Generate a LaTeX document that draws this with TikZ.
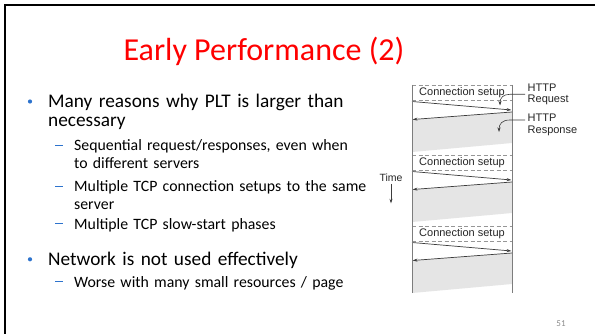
\documentclass[tikz,border=0pt]{standalone}
\usepackage{fontspec}
\setmainfont{Carlito}
\newfontfamily\helv{Liberation Sans}
\usetikzlibrary{arrows.meta}

\definecolor{titlered}{RGB}{255,0,0}
\definecolor{bulletblue}{RGB}{45,115,205}
\definecolor{lightfill}{RGB}{229,229,229}
\definecolor{rulegray}{RGB}{125,125,125}
\definecolor{dashgray}{RGB}{150,150,150}
\definecolor{msggray}{RGB}{60,60,60}
\definecolor{pagegray}{RGB}{140,140,140}

\begin{document}
\begin{tikzpicture}[x=1pt,y=-1pt,
  lvlone/.style={anchor=base west, inner sep=0pt, text width=340pt, align=left,
    font=\fontsize{19.3}{19}\selectfont},
  lvltwo/.style={anchor=base west, inner sep=0pt, text width=340pt, align=left,
    font=\fontsize{15.8}{17.5}\selectfont},
  dot/.style={fill=bulletblue},
  subdash/.style={draw=bulletblue, line width=1.1pt},
  setupline/.style={draw=dashgray, line width=0.7pt, dash pattern=on 4pt off 2.5pt},
  lifeline/.style={draw=rulegray, line width=0.8pt},
  msg/.style={draw=msggray, line width=0.7pt, -{Stealth[length=5pt,width=3pt]}},
  leader/.style={draw=msggray, line width=0.6pt, -{Stealth[length=4.5pt,width=3pt]}},
  diagtext/.style={inner sep=0pt, font=\helv\fontsize{11}{11.5}\selectfont, text=black!85},
]
\useasboundingbox (0,0) rectangle (595,334);
\fill[white] (0,0) rectangle (595,334);

% slide frame (top and left edges)
\draw[line width=2pt] (5.3,334) -- (5.3,5.3) -- (595,5.3);

% title
\node[anchor=base, inner sep=0pt, text=titlered, font=\fontsize{32}{36}\selectfont]
  (title) at (264,61) {Early Performance (2)};

% bullet list
\fill[dot] (30,101.5) circle (2.1pt);
\node[lvlone] (b1) at (48,108) {Many reasons why PLT is larger than\\ necessary};

\draw[subdash] (55,145.5) -- (63,145.5);
\node[lvltwo] (s1) at (74,151) {Sequential request/responses, even when\\ to different servers};

\draw[subdash] (55,186.2) -- (63,186.2);
\node[lvltwo] (s2) at (74,191.7) {Multiple TCP connection setups to the same\\ server};

\draw[subdash] (55,223.8) -- (63,223.8);
\node[lvltwo] (s3) at (74,229.3) {Multiple TCP slow-start phases};

\fill[dot] (30,259.3) circle (2.1pt);
\node[lvlone] (b2) at (48,265.7) {Network is not used effectively};

\draw[subdash] (55,281.8) -- (63,281.8);
\node[lvltwo] (s4) at (74,287.3) {Worse with many small resources / page};

% timeline: three request/response rounds, each after a connection setup
\foreach \t [count=\k] in {85,155,226} {
  \fill[lightfill] (412,\t+34.5) -- (512,\t+27) -- (512,\t+58) -- (412,\t+67) -- cycle;
  \draw[setupline] (412,\t) -- (512,\t);
  \draw[setupline] (412,\t+15) -- (512,\t+15);
  \node[diagtext] (setup\k) at (462,\t+7.8) {Connection setup};
  \coordinate (qa\k) at (412,\t+16.5);
  \coordinate (qb\k) at (511.5,\t+25);
  \coordinate (ra\k) at (512,\t+27);
  \coordinate (rb\k) at (412.5,\t+34.5);
  \draw[msg] (qa\k) -- (qb\k);
  \draw[msg] (ra\k) -- (rb\k);
}
\draw[lifeline] (412,85) -- (412,293);
\draw[lifeline] (512,85) -- (512,293);

% labels for the first round
\node[diagtext, anchor=west, align=left, font=\helv\fontsize{11}{11.5}\selectfont]
  (req) at (527.5,94.2) {HTTP\\Request};
\node[diagtext, anchor=west, align=left, font=\helv\fontsize{11}{11.5}\selectfont]
  (resp) at (527.5,125) {HTTP\\Response};
\coordinate (reqfrom) at (525,94.3);
\coordinate (reqto) at (500,105.5);
\coordinate (respfrom) at (525,120);
\coordinate (respto) at (499,132);
\draw[leader] (reqfrom) -- (510,94.3) .. controls (503,94.3) and (500,98) .. (reqto);
\draw[leader] (respfrom) -- (510,120) .. controls (502,120) and (499,124) .. (respto);

% time axis
\node[diagtext, font=\helv\fontsize{10.5}{11}\selectfont] (time) at (391,177.7) {Time};
\coordinate (timeend) at (391,203.3);
\draw[leader] (391,184) -- (timeend);

% page number
\node[anchor=base, inner sep=0pt, text=pagegray, font=\fontsize{9}{10}\selectfont]
  (page) at (561,326.5) {51};
\end{tikzpicture}
\end{document}
